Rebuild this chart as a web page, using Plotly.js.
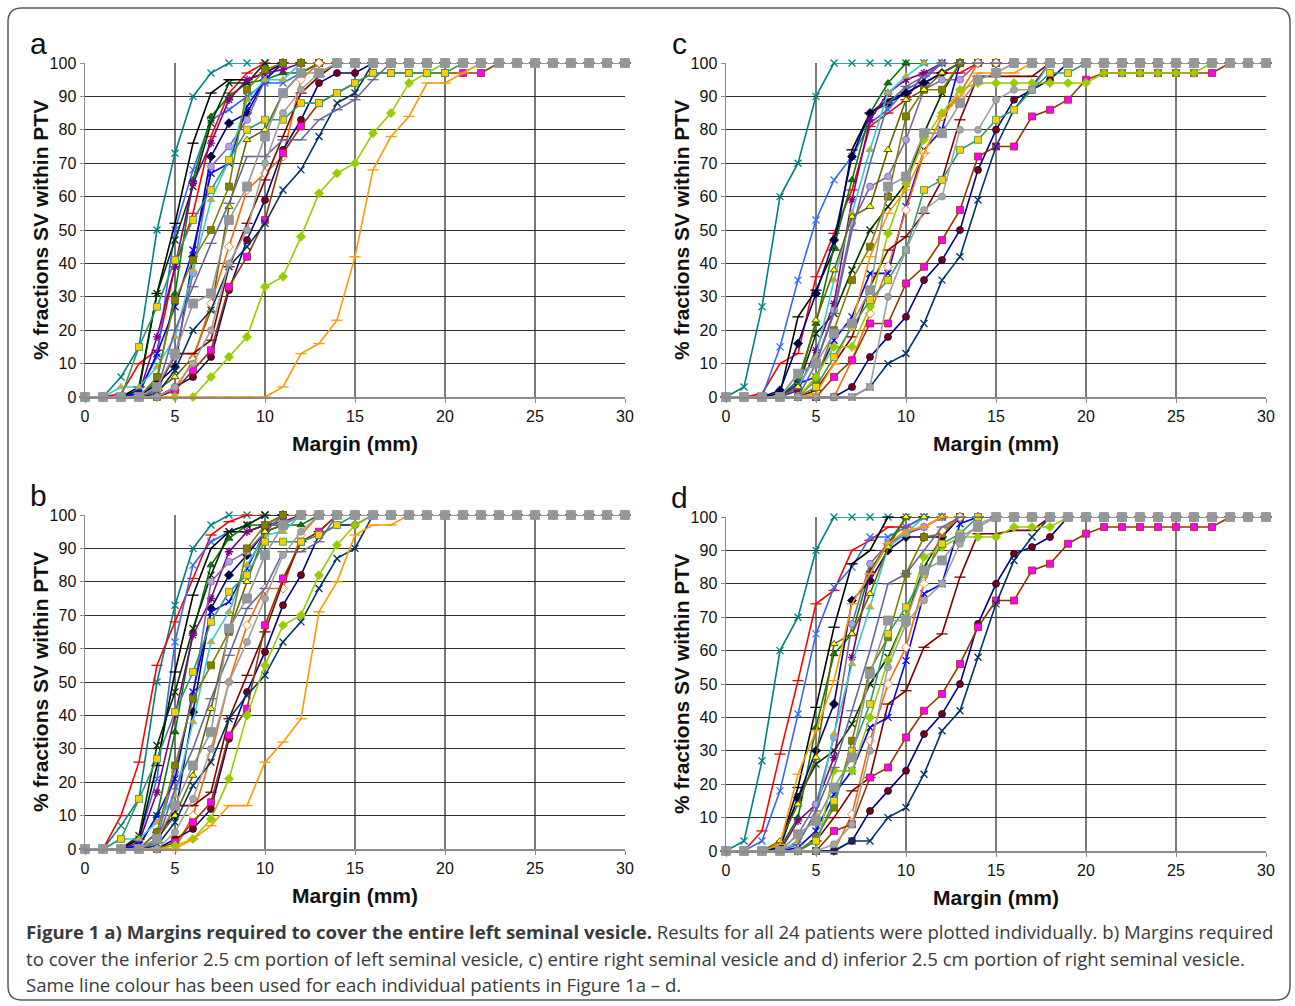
<!DOCTYPE html>
<html>
<head>
<meta charset="utf-8">
<script src="https://cdn.plot.ly/plotly-3.0.1.min.js"></script>
<style>html,body{margin:0;padding:0;background:#fff;}#chart{width:1295px;height:1006px;}</style>
</head>
<body>
<div id="chart"></div>
<script>
// ---------- DATA ----------
const margins = [0,1,2,3,4,5,6,7,8,9,10,11,12,13,14,15,16,17,18,19,20,21,22,23,24,25,26,27,28,29,30];
const xTicks = [0,5,10,15,20,25,30];
const yTicks = [0,10,20,30,40,50,60,70,80,90,100];
const panelLetters = ['a','b','c','d'];
const xTitle = 'Margin (mm)';
const yTitle = '% fractions SV within PTV';
const captionLines = [
  '<b>Figure 1 a) Margins required to cover the entire left seminal vesicle.</b> Results for all 24 patients were plotted individually. b) Margins required',
  'to cover the inferior 2.5 cm portion of left seminal vesicle, c) entire right seminal vesicle and d) inferior 2.5 cm portion of right seminal vesicle.',
  'Same line colour has been used for each individual patients in Figure 1a \u2013 d.'
];
const patients = ['Patient 1','Patient 2','Patient 3','Patient 4','Patient 5','Patient 6','Patient 7','Patient 8','Patient 9','Patient 10','Patient 11','Patient 12','Patient 13','Patient 14','Patient 15','Patient 16','Patient 17','Patient 18','Patient 19','Patient 20','Patient 21','Patient 22','Patient 23','Patient 24'];

// a) entire left SV
const panelA = [
[0,0,6,15,50,73,90,97,100,100,100,100,100,100,100,100,100,100,100,100,100,100,100,100,100,100,100,100,100,100,100],
[0,0,1,10,14,39,55,78,91,97,100,100,100,100,100,100,100,100,100,100,100,100,100,100,100,100,100,100,100,100,100],
[0,0,0,2,12,50,68,83,86,90,94,94,97,100,100,100,100,100,100,100,100,100,100,100,100,100,100,100,100,100,100],
[0,0,0,3,31,52,76,91,95,95,97,100,100,100,100,100,100,100,100,100,100,100,100,100,100,100,100,100,100,100,100],
[0,0,0,0,5,31,65,84,90,94,95,97,97,100,100,100,100,100,100,100,100,100,100,100,100,100,100,100,100,100,100],
[0,0,0,2,31,47,63,82,94,94,100,100,100,100,100,100,100,100,100,100,100,100,100,100,100,100,100,100,100,100,100],
[0,0,0,0,4,9,42,72,82,85,95,100,100,100,100,100,100,100,100,100,100,100,100,100,100,100,100,100,100,100,100],
[0,0,0,1,18,39,64,76,89,95,97,98,100,100,100,100,100,100,100,100,100,100,100,100,100,100,100,100,100,100,100],
[0,0,0,0,3,12,37,69,75,83,95,100,100,100,100,100,100,100,100,100,100,100,100,100,100,100,100,100,100,100,100],
[0,0,0,1,13,27,44,67,70,87,95,100,100,100,100,100,100,100,100,100,100,100,100,100,100,100,100,100,100,100,100],
[0,0,3,3,9,18,38,59,71,89,95,95,100,100,100,100,100,100,100,100,100,100,100,100,100,100,100,100,100,100,100],
[0,0,0,0,6,29,41,50,63,92,98,100,100,100,100,100,100,100,100,100,100,100,100,100,100,100,100,100,100,100,100],
[0,0,0,0,2,6,12,26,57,77,80,91,97,100,100,100,100,100,100,100,100,100,100,100,100,100,100,100,100,100,100],
[0,0,0,0,0,2,11,28,45,62,67,72,95,100,100,100,100,100,100,100,100,100,100,100,100,100,100,100,100,100,100],
[0,0,0,0,2,13,13,17,39,52,65,78,91,96,100,100,100,100,100,100,100,100,100,100,100,100,100,100,100,100,100],
[0,0,0,0,0,3,6,12,32,47,59,74,83,94,97,97,100,100,100,100,100,100,100,100,100,100,100,100,100,100,100],
[0,0,0,0,0,2,8,14,33,42,53,73,81,88,91,94,97,97,97,97,97,97,97,100,100,100,100,100,100,100,100],
[0,0,0,0,1,8,20,26,39,45,52,62,68,78,88,91,100,100,100,100,100,100,100,100,100,100,100,100,100,100,100],
[0,0,0,0,0,0,0,6,12,18,33,36,48,61,67,70,79,85,94,97,100,100,100,100,100,100,100,100,100,100,100],
[0,0,0,0,0,0,0,0,0,0,0,3,13,16,23,42,68,78,84,94,94,97,100,100,100,100,100,100,100,100,100],
[0,0,0,15,27,41,53,62,71,80,83,83,88,88,91,94,97,97,97,97,97,100,100,100,100,100,100,100,100,100,100],
[0,0,0,0,2,20,33,46,58,72,72,77,77,83,86,89,95,100,100,100,100,100,100,100,100,100,100,100,100,100,100],
[0,0,0,0,0,3,10,20,40,50,70,85,92,97,100,100,100,100,100,100,100,100,100,100,100,100,100,100,100,100,100],
[0,0,0,0,3,13,28,31,53,63,78,91,97,97,100,100,100,100,100,100,100,100,100,100,100,100,100,100,100,100,100]
];

// b) inferior 2.5 cm of left SV
const panelB = [
[0,0,7,15,50,73,90,97,100,100,100,100,100,100,100,100,100,100,100,100,100,100,100,100,100,100,100,100,100,100,100],
[0,0,10,26,55,68,81,94,98,100,100,100,100,100,100,100,100,100,100,100,100,100,100,100,100,100,100,100,100,100,100],
[0,0,0,3,21,62,85,92,95,97,100,100,100,100,100,100,100,100,100,100,100,100,100,100,100,100,100,100,100,100,100],
[0,0,0,3,25,53,76,90,95,95,97,100,100,100,100,100,100,100,100,100,100,100,100,100,100,100,100,100,100,100,100],
[0,0,0,1,10,35,65,85,93,97,97,97,97,100,100,100,100,100,100,100,100,100,100,100,100,100,100,100,100,100,100],
[0,0,0,4,31,47,66,82,95,97,100,100,100,100,100,100,100,100,100,100,100,100,100,100,100,100,100,100,100,100,100],
[0,0,0,0,5,10,41,72,82,88,95,100,100,100,100,100,100,100,100,100,100,100,100,100,100,100,100,100,100,100,100],
[0,0,0,2,17,40,64,75,89,95,97,98,100,100,100,100,100,100,100,100,100,100,100,100,100,100,100,100,100,100,100],
[0,0,0,0,3,23,46,80,86,89,95,100,100,100,100,100,100,100,100,100,100,100,100,100,100,100,100,100,100,100,100],
[0,0,0,1,10,21,47,71,74,84,95,97,100,100,100,100,100,100,100,100,100,100,100,100,100,100,100,100,100,100,100],
[0,0,3,3,8,16,38,62,71,85,94,95,100,100,100,100,100,100,100,100,100,100,100,100,100,100,100,100,100,100,100],
[0,0,0,0,5,25,45,55,65,90,97,100,100,100,100,100,100,100,100,100,100,100,100,100,100,100,100,100,100,100,100],
[0,0,0,0,3,10,22,42,65,80,95,97,100,100,100,100,100,100,100,100,100,100,100,100,100,100,100,100,100,100,100],
[0,0,0,0,0,0,10,28,50,67,78,78,94,100,100,100,100,100,100,100,100,100,100,100,100,100,100,100,100,100,100],
[0,0,0,0,2,13,13,17,39,52,65,80,92,95,100,100,100,100,100,100,100,100,100,100,100,100,100,100,100,100,100],
[0,0,0,0,0,3,6,12,33,47,59,73,82,94,97,97,100,100,100,100,100,100,100,100,100,100,100,100,100,100,100],
[0,0,0,0,0,2,8,14,34,42,67,81,92,95,100,100,100,100,100,100,100,100,100,100,100,100,100,100,100,100,100],
[0,0,0,0,1,8,19,26,39,46,52,62,68,78,87,90,100,100,100,100,100,100,100,100,100,100,100,100,100,100,100],
[0,0,0,0,0,1,3,9,21,40,55,67,70,82,91,97,100,100,100,100,100,100,100,100,100,100,100,100,100,100,100],
[0,0,0,0,0,0,3,7,13,13,26,32,39,71,80,94,97,97,100,100,100,100,100,100,100,100,100,100,100,100,100],
[0,0,3,15,27,41,53,68,77,82,92,92,92,94,97,100,100,100,100,100,100,100,100,100,100,100,100,100,100,100,100],
[0,0,0,0,2,18,30,45,58,72,78,89,89,92,100,100,100,100,100,100,100,100,100,100,100,100,100,100,100,100,100],
[0,0,0,0,0,5,15,30,50,62,75,88,95,100,100,100,100,100,100,100,100,100,100,100,100,100,100,100,100,100,100],
[0,0,0,0,3,13,25,35,66,75,88,97,100,100,100,100,100,100,100,100,100,100,100,100,100,100,100,100,100,100,100]
];

// c) entire right SV
const panelC = [
[0,3,27,60,70,90,100,100,100,100,100,100,100,100,100,100,100,100,100,100,100,100,100,100,100,100,100,100,100,100,100],
[0,0,1,10,13,36,49,62,81,85,89,97,97,97,100,100,100,100,100,100,100,100,100,100,100,100,100,100,100,100,100],
[0,0,0,15,35,53,65,72,82,86,92,95,100,100,100,100,100,100,100,100,100,100,100,100,100,100,100,100,100,100,100],
[0,0,0,1,24,32,44,74,85,89,91,94,97,100,100,100,100,100,100,100,100,100,100,100,100,100,100,100,100,100,100],
[0,0,0,0,5,22,45,65,85,94,100,100,100,100,100,100,100,100,100,100,100,100,100,100,100,100,100,100,100,100,100],
[0,0,0,0,3,19,25,38,50,57,64,79,91,100,100,100,100,100,100,100,100,100,100,100,100,100,100,100,100,100,100],
[0,0,0,2,16,31,47,72,85,88,91,94,97,100,100,100,100,100,100,100,100,100,100,100,100,100,100,100,100,100,100],
[0,0,0,0,2,14,28,59,83,91,95,97,100,100,100,100,100,100,100,100,100,100,100,100,100,100,100,100,100,100,100],
[0,0,0,0,7,10,26,52,63,66,77,92,95,95,100,100,100,100,100,100,100,100,100,100,100,100,100,100,100,100,100],
[0,0,0,0,4,6,17,24,37,37,57,74,80,100,100,100,100,100,100,100,100,100,100,100,100,100,100,100,100,100,100],
[0,0,0,0,3,12,35,55,74,91,96,100,100,100,100,100,100,100,100,100,100,100,100,100,100,100,100,100,100,100,100],
[0,0,0,0,0,5,20,35,45,60,84,92,92,100,100,100,100,100,100,100,100,100,100,100,100,100,100,100,100,100,100],
[0,0,0,0,3,23,38,54,57,74,89,92,97,100,100,100,100,100,100,100,100,100,100,100,100,100,100,100,100,100,100],
[0,0,0,0,0,0,0,11,25,39,56,73,84,91,100,100,100,100,100,100,100,100,100,100,100,100,100,100,100,100,100],
[0,0,0,0,0,2,10,18,33,44,48,55,65,83,96,96,96,96,100,100,100,100,100,100,100,100,100,100,100,100,100],
[0,0,0,0,0,0,0,3,12,18,24,35,41,50,68,80,89,92,95,100,100,100,100,100,100,100,100,100,100,100,100],
[0,0,0,0,0,0,6,11,22,22,34,39,47,56,72,75,75,84,86,89,95,97,97,97,97,97,97,97,100,100,100],
[0,0,0,0,0,0,0,0,3,10,13,22,35,42,59,75,86,93,100,100,100,100,100,100,100,100,100,100,100,100,100],
[0,0,0,0,0,6,15,15,27,49,64,77,85,92,94,94,94,94,94,94,94,97,97,97,97,97,97,100,100,100,100],
[0,0,0,0,0,1,10,22,42,55,62,73,84,90,97,97,97,100,100,100,100,100,100,100,100,100,100,100,100,100,100],
[0,0,0,0,0,3,12,21,29,35,44,62,65,74,77,83,86,92,97,97,100,100,100,100,100,100,100,100,100,100,100],
[0,0,0,0,0,10,25,50,70,88,93,96,100,100,100,100,100,100,100,100,100,100,100,100,100,100,100,100,100,100,100],
[0,0,0,0,0,0,0,0,3,30,44,56,60,80,80,89,92,92,100,100,100,100,100,100,100,100,100,100,100,100,100],
[0,0,0,0,7,10,19,22,32,63,66,79,79,88,95,97,100,100,100,100,100,100,100,100,100,100,100,100,100,100,100]
];

// d) inferior 2.5 cm of right SV
const panelD = [
[0,3,27,60,70,90,100,100,100,100,100,100,100,100,100,100,100,100,100,100,100,100,100,100,100,100,100,100,100,100,100],
[0,0,6,29,51,74,78,90,93,97,97,100,100,100,100,100,100,100,100,100,100,100,100,100,100,100,100,100,100,100,100],
[0,0,3,18,41,65,79,85,94,94,97,100,100,100,100,100,100,100,100,100,100,100,100,100,100,100,100,100,100,100,100],
[0,0,0,2,19,43,67,86,90,100,100,100,100,100,100,100,100,100,100,100,100,100,100,100,100,100,100,100,100,100,100],
[0,0,0,1,10,37,59,65,84,92,100,100,100,100,100,100,100,100,100,100,100,100,100,100,100,100,100,100,100,100,100],
[0,0,0,2,16,26,30,38,50,58,70,85,94,100,100,100,100,100,100,100,100,100,100,100,100,100,100,100,100,100,100],
[0,0,0,1,16,30,44,75,81,90,94,94,94,100,100,100,100,100,100,100,100,100,100,100,100,100,100,100,100,100,100],
[0,0,0,0,9,14,28,58,83,92,95,97,100,100,100,100,100,100,100,100,100,100,100,100,100,100,100,100,100,100,100],
[0,0,0,0,5,14,34,68,86,92,95,97,100,100,100,100,100,100,100,100,100,100,100,100,100,100,100,100,100,100,100],
[0,0,0,0,1,6,17,24,37,40,57,77,80,98,100,100,100,100,100,100,100,100,100,100,100,100,100,100,100,100,100],
[0,0,0,0,3,11,35,56,73,91,95,100,100,100,100,100,100,100,100,100,100,100,100,100,100,100,100,100,100,100,100],
[0,0,0,0,0,4,13,33,54,64,83,94,95,100,100,100,100,100,100,100,100,100,100,100,100,100,100,100,100,100,100],
[0,0,0,3,14,28,62,65,77,91,100,100,100,100,100,100,100,100,100,100,100,100,100,100,100,100,100,100,100,100,100],
[0,0,0,0,0,0,0,11,33,50,61,80,96,100,100,100,100,100,100,100,100,100,100,100,100,100,100,100,100,100,100],
[0,0,0,0,0,3,10,18,22,44,48,61,65,82,95,95,96,96,100,100,100,100,100,100,100,100,100,100,100,100,100],
[0,0,0,0,0,0,0,3,12,18,24,35,41,50,68,80,89,91,94,100,100,100,100,100,100,100,100,100,100,100,100],
[0,0,0,0,0,0,6,8,22,25,34,42,47,56,67,75,75,84,86,92,95,97,97,97,97,97,97,97,100,100,100],
[0,0,0,0,0,0,0,3,3,10,13,23,36,42,58,74,87,94,100,100,100,100,100,100,100,100,100,100,100,100,100],
[0,0,0,0,0,0,24,24,40,57,70,88,91,94,94,94,97,97,97,100,100,100,100,100,100,100,100,100,100,100,100],
[0,0,0,2,23,36,51,74,83,92,96,97,100,100,100,100,100,100,100,100,100,100,100,100,100,100,100,100,100,100,100],
[0,0,0,0,0,3,15,30,44,65,73,83,92,95,100,100,100,100,100,100,100,100,100,100,100,100,100,100,100,100,100],
[0,0,0,0,2,12,25,42,60,80,83,90,97,100,100,100,100,100,100,100,100,100,100,100,100,100,100,100,100,100,100],
[0,0,0,0,0,0,2,8,30,55,68,75,80,92,98,100,100,100,100,100,100,100,100,100,100,100,100,100,100,100,100],
[0,0,0,0,5,9,19,28,53,69,69,84,87,94,97,100,100,100,100,100,100,100,100,100,100,100,100,100,100,100,100]
];

// ---------- STYLES ----------
const lineColors = ['#008080','#FF0000','#3366FF','#000000','#008000','#003300','#000080','#800080','#8064A2','#0000FF','#33CCCC','#808000','#666600','#FF6600','#800000','#000080','#993300','#003366','#99CC00','#FF9900','#339966','#666699','#A0A0A0','#969696'];
const markerSymbols = ['x-thin-open','line-ew-open','x-thin-open','line-ew-open','triangle-up','x-thin-open','diamond','asterisk-open','circle','x-thin-open','triangle-up','square','triangle-up','diamond','line-ew-open','circle','square','x-thin-open','diamond','line-ew-open','square','line-ew-open','circle','square'];
const markerFills = ['#008080','#FF0000','#3366FF','#000000','#008000','#003300','#000033','#800080','#B3A2E0','#0000FF','#FF9900','#808000','#FFFF00','#FFFFFF','#800000','#800000','#FF00FF','#003366','#99CC00','#FF9900','#FFCC00','#666699','#A6A6A6','#969696'];
const markerEdges = ['#008080','#FF0000','#3366FF','#000000','#004000','#003300','#000080','#800080','#8064A2','#0000FF','#33CCCC','#666600','#333300','#FF6600','#800000','#000080','#993300','#003366','#99CC00','#FF9900','#339966','#666699','#8C8C8C','#8595A8'];
const markerSizes = [7,8,7,8,7,7,7,7,7,7,7,7,7,7,8,7,7,7,7,8,7,8,7,9];

const W = 1295, H = 1006;
const px = v => v / W;
const py = v => 1 - v / H;

const panels = [
  {data: panelA, letter: 0, l: 85,  r: 625,  t: 63,  b: 397},
  {data: panelB, letter: 1, l: 85,  r: 625,  t: 515, b: 849},
  {data: panelC, letter: 2, l: 726, r: 1266, t: 63,  b: 397},
  {data: panelD, letter: 3, l: 726, r: 1266, t: 517, b: 851}
];

[panelA, panelB, panelC, panelD].forEach((p, k) => {
  if (p.length !== 24) throw new Error('panel ' + k + ' has ' + p.length + ' rows');
  p.forEach((row, i) => { if (row.length !== margins.length) throw new Error('panel ' + k + ' row ' + (i+1) + ' length ' + row.length); });
});

const traces = [];
const layout = {
  width: W, height: H,
  margin: {l: 0, r: 0, t: 0, b: 0},
  paper_bgcolor: '#ffffff', plot_bgcolor: '#ffffff',
  showlegend: false,
  annotations: [], shapes: []
};
const tickFont = {family: 'Liberation Sans, Arial, sans-serif', size: 16, color: '#111111'};
const titleFont = {family: 'Liberation Sans, Arial, sans-serif', size: 21, color: '#111111'};

panels.forEach((p, k) => {
  const n = k + 1;
  const xa = 'x' + (n === 1 ? '' : n), ya = 'y' + (n === 1 ? '' : n);
  layout['xaxis' + (n === 1 ? '' : n)] = {
    domain: [px(p.l), px(p.r)], anchor: ya, range: [0, 30],
    tickmode: 'array', tickvals: xTicks, ticktext: xTicks.map(String),
    showgrid: true, gridcolor: '#7a7a7a', gridwidth: 1.2,
    showline: true, linecolor: '#8a8a8a', linewidth: 1.5,
    ticks: 'outside', ticklen: 4, tickcolor: '#8a8a8a', tickwidth: 1,
    tickfont: tickFont, zeroline: false, fixedrange: true
  };
  layout['yaxis' + (n === 1 ? '' : n)] = {
    domain: [py(p.b), py(p.t)], anchor: xa, range: [0, 100],
    tickmode: 'array', tickvals: yTicks, ticktext: yTicks.map(String),
    showgrid: true, gridcolor: '#2e2e2e', gridwidth: 1,
    showline: true, linecolor: '#8a8a8a', linewidth: 1.5,
    ticks: 'outside', ticklen: 4, tickcolor: '#8a8a8a', tickwidth: 1,
    tickfont: tickFont, zeroline: false, fixedrange: true
  };
  p.data.forEach((row, i) => {
    const open = markerSymbols[i].indexOf('open') >= 0;
    traces.push({
      type: 'scatter', mode: 'lines+markers', name: patients[i],
      x: margins, y: row, xaxis: xa, yaxis: ya, cliponaxis: false,
      line: {color: lineColors[i], width: 1.6},
      marker: {
        symbol: markerSymbols[i], size: markerSizes[i],
        color: open ? lineColors[i] : markerFills[i],
        line: {color: markerEdges[i], width: open ? 1.3 : 0.8}
      },
      hovertemplate: patients[i] + ': %{y}% at %{x} mm<extra></extra>'
    });
  });
  // panel letter
  const letterX = p.l - 47, letterY = p.t - 20;
  layout.annotations.push({
    text: panelLetters[p.letter], xref: 'paper', yref: 'paper',
    x: px(letterX), y: py(letterY), xanchor: 'center', yanchor: 'middle',
    showarrow: false, font: {family: 'Liberation Sans, Arial, sans-serif', size: 30, color: '#111111'}
  });
  // y title
  layout.annotations.push({
    text: '<b>' + yTitle + '</b>', xref: 'paper', yref: 'paper',
    x: px(p.l - 45), y: py((p.t + p.b) / 2), xanchor: 'center', yanchor: 'middle',
    textangle: -90, showarrow: false, font: titleFont
  });
  // x title
  layout.annotations.push({
    text: '<b>' + xTitle + '</b>', xref: 'paper', yref: 'paper',
    x: px(p.l + 270), y: py(p.b + 46), xanchor: 'center', yanchor: 'middle',
    showarrow: false, font: titleFont
  });
});

// caption
const capY = [931, 958, 984];
captionLines.forEach((t, i) => {
  layout.annotations.push({
    text: t, xref: 'paper', yref: 'paper', x: px(24), y: py(capY[i]),
    xanchor: 'left', yanchor: 'middle', align: 'left', showarrow: false,
    font: {family: 'Open Sans, sans-serif', size: 18.6, color: '#3a3a3a'}
  });
});

// rounded border
(function () {
  const L = 8, R = 1290, T = 8, B = 1000, r = 14;
  const P = (x, y) => px(x) + ',' + py(y);
  const path = 'M' + P(L + r, T) + ' L' + P(R - r, T) + ' Q' + P(R, T) + ' ' + P(R, T + r) +
    ' L' + P(R, B - r) + ' Q' + P(R, B) + ' ' + P(R - r, B) +
    ' L' + P(L + r, B) + ' Q' + P(L, B) + ' ' + P(L, B - r) +
    ' L' + P(L, T + r) + ' Q' + P(L, T) + ' ' + P(L + r, T) + ' Z';
  layout.shapes.push({type: 'path', xref: 'paper', yref: 'paper', path: path,
    line: {color: '#5a5a5a', width: 1.5}, fillcolor: 'rgba(0,0,0,0)', layer: 'below'});
})();

Plotly.newPlot('chart', traces, layout, {staticPlot: true, displayModeBar: false});
</script>
</body>
</html>
